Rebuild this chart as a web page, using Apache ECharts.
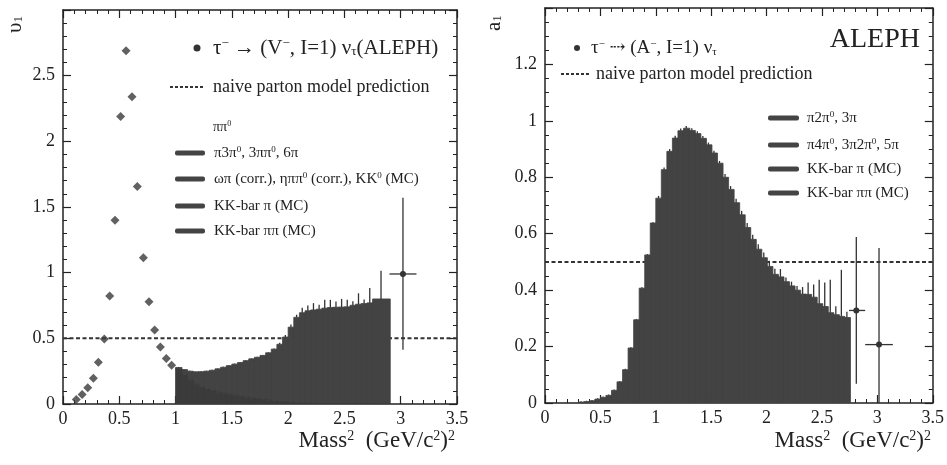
<!DOCTYPE html>
<html><head><meta charset="utf-8">
<script src="https://cdn.jsdelivr.net/npm/echarts@6/dist/echarts.min.js"></script>
<style>html,body{margin:0;padding:0;background:#fff}#c{width:947px;height:465px}</style>
</head><body><div id="c"></div><script>
// ---------- DATA: left panel (vector spectral function v1) ----------
const V_PTS_X = [0.118,0.17,0.22,0.27,0.314,0.367,0.415,0.462,0.512,0.56,0.613,0.66,0.714,0.764,0.814,0.865,0.918,0.965];
const V_PTS_Y = [0.035,0.073,0.124,0.197,0.318,0.495,0.823,1.40,2.19,2.69,2.34,1.656,1.114,0.778,0.563,0.434,0.346,0.295];
const V_EDGES = [1.00,1.05,1.10,1.15,1.20,1.25,1.30,1.35,1.40,1.45,1.50,1.55,1.60,1.65,1.70,1.75,1.80,1.85,1.90,1.95,2.00,2.05,2.10,2.15,2.20,2.25,2.30,2.35,2.40,2.45,2.50,2.55,2.60,2.65,2.70,2.75,2.90];
const V_TOTAL = [0.278,0.262,0.25,0.245,0.246,0.25,0.257,0.268,0.28,0.292,0.304,0.316,0.33,0.344,0.356,0.37,0.39,0.418,0.455,0.51,0.585,0.66,0.695,0.71,0.716,0.722,0.73,0.735,0.737,0.738,0.74,0.752,0.76,0.765,0.77,0.80];
const V_PIPI0 = [0.268,0.222,0.182,0.152,0.13,0.115,0.102,0.09,0.082,0.074,0.066,0.058,0.052,0.045,0.04,0.034,0.029,0.024,0.019,0.015,0.012,0.009,0.006,0.004,0.002,0,0,0,0,0,0,0,0,0,0,0];
const V_ERR = [0.004,0.004,0.004,0.004,0.004,0.004,0.004,0.004,0.004,0.004,0.004,0.004,0.004,0.004,0.004,0.004,0.004,0.004,0.012,0.015,0.02,0.02,0.037,0.04,0.052,0.033,0.063,0.058,0.043,0.062,0.053,0.03,0.083,0.03,0.114,0.215];
// extra data point: [x, y, xlo, xhi, ylo, yhi]
const V_EXTRA = [[3.02,0.99,2.90,3.14,0.414,1.57]];

// ---------- DATA: right panel (axial-vector spectral function a1) ----------
const A_EDGES = [0.30,0.35,0.40,0.45,0.50,0.55,0.60,0.65,0.70,0.75,0.80,0.85,0.90,0.95,1.00,1.05,1.10,1.15,1.20,1.25,1.30,1.35,1.40,1.45,1.50,1.55,1.60,1.65,1.70,1.75,1.80,1.85,1.90,1.95,2.00,2.05,2.10,2.15,2.20,2.25,2.30,2.35,2.40,2.45,2.50,2.55,2.60,2.65,2.70,2.75];
const A_VAL = [0.003,0.005,0.008,0.014,0.02,0.027,0.045,0.075,0.118,0.195,0.295,0.407,0.525,0.638,0.726,0.827,0.892,0.939,0.965,0.974,0.966,0.955,0.938,0.915,0.886,0.85,0.80,0.757,0.71,0.667,0.622,0.58,0.545,0.515,0.484,0.456,0.447,0.43,0.415,0.40,0.386,0.385,0.375,0.352,0.342,0.32,0.313,0.307,0.303];
const A_ERR = [0.003,0.003,0.003,0.003,0.003,0.003,0.003,0.003,0.003,0.003,0.003,0.003,0.003,0.003,0.008,0.008,0.008,0.008,0.008,0.008,0.008,0.008,0.008,0.008,0.008,0.008,0.012,0.012,0.014,0.014,0.016,0.016,0.018,0.018,0.02,0.02,0.028,0.015,0.015,0.015,0.025,0.042,0.045,0.085,0.085,0.117,0.03,0.165,0.02];
const A_EXTRA = [[2.81,0.328,2.745,2.89,0.068,0.588],[3.015,0.207,2.89,3.14,0.0,0.549]];

const X_TICKS = [0,0.5,1,1.5,2,2.5,3,3.5];

// ---------- helpers ----------
const INK = '#222';
const FILL = '#434343';
const FILL2 = '#3b3b3b';
const SERIF = '"Liberation Serif","DejaVu Serif",serif';

function bins(edges, base, top){
  return top.map((t,i)=>[edges[i], edges[i+1], base ? base[i] : 0, t]);
}
function errs(edges, top, err){
  return top.map((t,i)=>[(edges[i]+edges[i+1])/2, t, t+err[i]]);
}
function rectRender(color){
  return function(params, api){
    const a = api.coord([api.value(0), api.value(2)]);
    const b = api.coord([api.value(1), api.value(3)]);
    return {type:'rect', shape:{x:a[0], y:b[1], width:b[0]-a[0]+0.8, height:a[1]-b[1]},
      style:{fill:color, stroke:color, lineWidth:0.8}};
  };
}
function vlineRender(params, api){
  const a = api.coord([api.value(0), api.value(1)]);
  const b = api.coord([api.value(0), api.value(2)]);
  return {type:'line', shape:{x1:a[0],y1:a[1],x2:b[0],y2:b[1]}, style:{stroke:'#333', lineWidth:1.3}};
}
function crossRender(params, api){
  const c = api.coord([api.value(0), api.value(1)]);
  const l = api.coord([api.value(2), api.value(1)]);
  const r = api.coord([api.value(3), api.value(1)]);
  const lo = api.coord([api.value(0), api.value(4)]);
  const hi = api.coord([api.value(0), api.value(5)]);
  return {type:'group', children:[
    {type:'line', shape:{x1:l[0],y1:l[1],x2:r[0],y2:r[1]}, style:{stroke:'#333', lineWidth:1.3}},
    {type:'line', shape:{x1:lo[0],y1:lo[1],x2:hi[0],y2:hi[1]}, style:{stroke:'#333', lineWidth:1.3}},
    {type:'circle', shape:{cx:c[0], cy:c[1], r:3}, style:{fill:'#333'}}
  ]};
}
function xAxes(g){
  const common = {gridIndex:g, type:'value', min:0, max:3.5, interval:0.5,
    axisLine:{show:true, onZero:false, lineStyle:{color:INK, width:1.5}},
    axisTick:{show:true, inside:true, length:8, lineStyle:{color:INK, width:1.2}},
    minorTick:{show:true, splitNumber:5, length:4, lineStyle:{color:INK, width:1}},
    splitLine:{show:false}};
  return [
    Object.assign({}, common, {position:'bottom', axisLabel:{show:true, color:INK, fontFamily:SERIF, fontSize:18, margin:6,
      formatter: v => X_TICKS.indexOf(v) >= 0 ? String(v) : ''}}),
    Object.assign({}, common, {position:'top', axisLabel:{show:false}})
  ];
}
function yAxes(g, max, interval, minorSplit){
  const common = {gridIndex:g, type:'value', min:0, max:max, interval:interval,
    axisLine:{show:true, onZero:false, lineStyle:{color:INK, width:1.5}},
    axisTick:{show:true, inside:true, length:8, lineStyle:{color:INK, width:1.2}},
    minorTick:{show:true, splitNumber:minorSplit, length:4, lineStyle:{color:INK, width:1}},
    splitLine:{show:false}};
  return [
    Object.assign({}, common, {position:'left', axisLabel:{show:true, color:INK, fontFamily:SERIF, fontSize:18, margin:8, showMaxLabel:false}}),
    Object.assign({}, common, {position:'right', axisLabel:{show:false}})
  ];
}
function txt(x, y, text, size, opts){
  const o = opts || {};
  return {type:'text', x:x, y:y, rotation:o.rotation||0, z:100, silent:true,
    style:{text:text, fontFamily:o.family||SERIF, fontSize:size, fill:INK,
      align:o.align||'left', textAlign:o.align||'left', verticalAlign:'middle', textVerticalAlign:'middle',
      rich:{
        sup:{fontFamily:SERIF, fontSize:Math.round(size*0.6), verticalAlign:'top', fill:INK},
        sub:{fontFamily:SERIF, fontSize:Math.round(size*0.6), verticalAlign:'bottom', fill:INK},
        m:{fontFamily:SERIF, fontSize:size, fill:INK}
      }}};
}
function bar(x, y, w){
  return {type:'rect', shape:{x:x, y:y-2.5, width:w, height:5, r:2}, style:{fill:'#444'}, z:100, silent:true};
}
function dash(x1, x2, y){
  return {type:'line', shape:{x1:x1,y1:y,x2:x2,y2:y}, style:{stroke:'#333', lineWidth:1.8, lineDash:[3,2]}, z:100, silent:true};
}
function dot(x, y, r){
  return {type:'circle', shape:{cx:x, cy:y, r:r}, style:{fill:'#333'}, z:100, silent:true};
}

const chart = echarts.init(document.getElementById('c'), null, {renderer:'canvas'});
const option = {
  animation:false,
  backgroundColor:'#fff',
  grid:[
    {left:63, top:10, width:394, height:394, containLabel:false},
    {left:545, top:8, width:394, height:395, containLabel:false}
  ],
  xAxis: xAxes(0).concat(xAxes(1)),
  yAxis: yAxes(0, 3, 0.5, 5).concat(yAxes(1, 1.4, 0.2, 4)),
  series:[
    // left panel
    {type:'line', xAxisIndex:0, yAxisIndex:0, data:[[0,0.5],[3.5,0.5]], symbol:'none', silent:true, z:1,
      lineStyle:{color:'#333', width:2, type:[4,2.5]}},
    {type:'custom', xAxisIndex:0, yAxisIndex:0, data:bins(V_EDGES, V_PIPI0, V_TOTAL), renderItem:rectRender(FILL), encode:{x:[0,1], y:[2,3]}, z:2, silent:true, clip:true},
    {type:'custom', xAxisIndex:0, yAxisIndex:0, data:bins(V_EDGES, null, V_PIPI0), renderItem:rectRender(FILL2), encode:{x:[0,1], y:[2,3]}, z:2, silent:true, clip:true},
    {type:'custom', xAxisIndex:0, yAxisIndex:0, data:errs(V_EDGES, V_TOTAL, V_ERR), renderItem:vlineRender, encode:{x:0, y:[1,2]}, z:3, silent:true, clip:true},
    {type:'scatter', xAxisIndex:0, yAxisIndex:0, data:V_PTS_X.map((x,i)=>[x, V_PTS_Y[i]]), symbol:'diamond', symbolSize:9, itemStyle:{color:'#3a3a3a'}, z:4, silent:true},
    {type:'custom', xAxisIndex:0, yAxisIndex:0, data:V_EXTRA, renderItem:crossRender, encode:{x:[0,2,3], y:[1,4,5]}, z:4, silent:true, clip:true},
    // right panel
    {type:'line', xAxisIndex:2, yAxisIndex:2, data:[[0,0.5],[3.5,0.5]], symbol:'none', silent:true, z:1,
      lineStyle:{color:'#333', width:2, type:[4,2.5]}},
    {type:'custom', xAxisIndex:2, yAxisIndex:2, data:bins(A_EDGES, null, A_VAL), renderItem:rectRender(FILL), encode:{x:[0,1], y:[2,3]}, z:2, silent:true, clip:true},
    {type:'custom', xAxisIndex:2, yAxisIndex:2, data:errs(A_EDGES, A_VAL, A_ERR), renderItem:vlineRender, encode:{x:0, y:[1,2]}, z:3, silent:true, clip:true},
    {type:'custom', xAxisIndex:2, yAxisIndex:2, data:A_EXTRA, renderItem:crossRender, encode:{x:[0,2,3], y:[1,4,5]}, z:4, silent:true, clip:true}
  ],
  graphic:[
    // left legend
    dot(197, 48, 3.5),
    txt(213, 48, 'τ{sup|−} → (V{sup|−}, I=1) ν{sub|τ}{m|(ALEPH)}', 21),
    dash(170, 203, 87),
    txt(213, 87, 'naive parton model prediction', 18),
    txt(213, 127, 'ππ{sup|0}', 14),
    bar(175, 153, 30), txt(214, 153, 'π3π{sup|0}, 3ππ{sup|0}, 6π', 15),
    bar(175, 179, 30), txt(214, 179, 'ωπ (corr.), ηππ{sup|0} (corr.), KK{sup|0} (MC)', 15),
    bar(175, 206, 30), txt(214, 206, 'KK-bar π (MC)', 15),
    bar(175, 231, 30), txt(214, 231, 'KK-bar ππ (MC)', 15),
    // right legend
    dot(577, 48, 3),
    txt(591, 48, 'τ{sup|−} ⇢ (A{sup|−}, I=1) ν{sub|τ}', 19),
    dash(561, 590, 74),
    txt(596, 74, 'naive parton model prediction', 18),
    txt(920, 40, 'ALEPH', 28, {align:'right'}),
    bar(768, 118, 31), txt(807, 118, 'π2π{sup|0}, 3π', 15),
    bar(768, 145, 31), txt(807, 145, 'π4π{sup|0}, 3π2π{sup|0}, 5π', 15),
    bar(768, 169, 31), txt(807, 169, 'KK-bar π (MC)', 15),
    bar(768, 193, 31), txt(807, 193, 'KK-bar ππ (MC)', 15),
    // axis titles
    txt(15, 33, 'υ{sub|1}', 21, {rotation:Math.PI/2}),
    txt(494, 31, 'a{sub|1}', 21, {rotation:Math.PI/2}),
    txt(455, 441, 'Mass{sup|2}  (GeV/c{sup|2}){sup|2}', 23, {align:'right'}),
    txt(931, 441, 'Mass{sup|2}  (GeV/c{sup|2}){sup|2}', 23, {align:'right'})
  ]
};
chart.setOption(option);
</script></body></html>
